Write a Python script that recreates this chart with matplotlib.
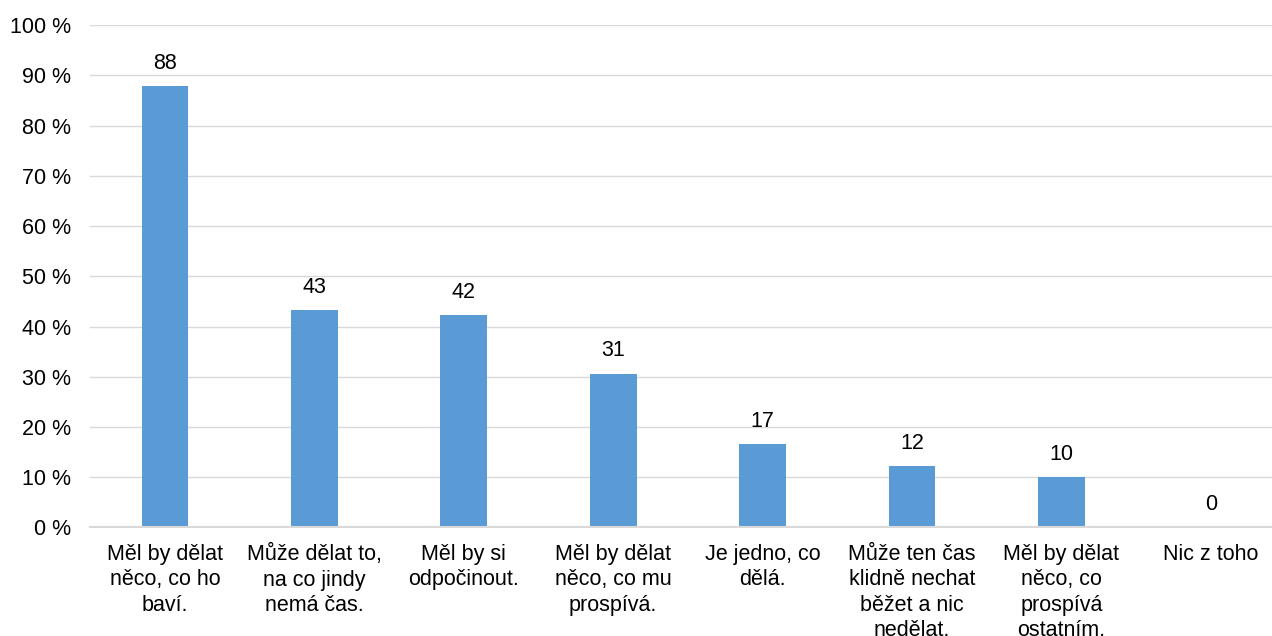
import numpy as np
import matplotlib
matplotlib.use('Agg')
import matplotlib.pyplot as plt

categories = [
    "Měl by dělat\nněco, co ho\nbaví.",
    "Může dělat to,\nna co jindy\nnemá čas.",
    "Měl by si\nodpočinout.",
    "Měl by dělat\nněco, co mu\nprospívá.",
    "Je jedno, co\ndělá.",
    "Může ten čas\nklidně nechat\nběžet a nic\nnedělat.",
    "Měl by dělat\nněco, co\nprospívá\nostatním.",
    "Nic z toho",
]
values = [87.8, 43.2, 42.2, 30.6, 16.6, 12.2, 10.0, 0.0]
yticks = np.arange(0, 101, 10)

plt.rcParams['font.family'] = ['Liberation Sans', 'DejaVu Sans']
plt.rcParams['font.size'] = 15.5

fig = plt.figure(figsize=(12.72, 6.36), dpi=100)
ax = fig.add_axes([0.071, 0.1706, 0.9396, 0.790])

x = np.arange(len(categories))
bars = ax.bar(x, values, width=0.312, color='#5B9BD5', zorder=3)

for xi, v in zip(x, values):
    ax.annotate(f"{v:.0f}", (xi, v), xytext=(0, 9), textcoords='offset points',
                ha='center', va='bottom', fontsize=15.5, color='#000000')

ax.set_xlim(-0.5, len(categories) - 0.5)
ax.set_ylim(0, 100)
ax.set_yticks(yticks)
ax.set_yticklabels([f"{t} %" for t in yticks])
ax.set_xticks(x)
ax.set_xticklabels(categories, linespacing=1.27, va='top')

ax.grid(axis='y', color='#D9D9D9', linewidth=1, zorder=0)
for s in ['top', 'right', 'left']:
    ax.spines[s].set_visible(False)
ax.spines['bottom'].set_color('#D9D9D9')
ax.spines['bottom'].set_linewidth(1.5)
ax.spines['bottom'].set_zorder(4)
ax.tick_params(axis='both', length=0, labelsize=15.5, colors='#000000')
ax.tick_params(axis='x', pad=12)
ax.tick_params(axis='y', pad=14)

fig.savefig('out.png', dpi=100)
